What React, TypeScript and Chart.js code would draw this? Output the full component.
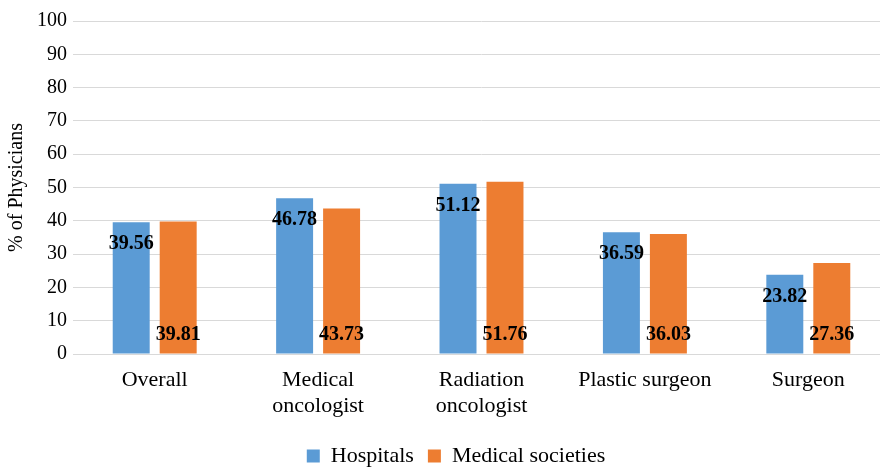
import React, { useEffect, useRef } from 'react';
import { Chart, registerables } from 'chart.js';

Chart.register(...registerables);

const categories: (string | string[])[] = [
  'Overall',
  ['Medical', 'oncologist'],
  ['Radiation', 'oncologist'],
  'Plastic surgeon',
  'Surgeon',
];
const hospitals = [39.56, 46.78, 51.12, 36.59, 23.82];
const medicalSocieties = [39.81, 43.73, 51.76, 36.03, 27.36];
const seriesNames = ['Hospitals', 'Medical societies'];
const yMin = 0;
const yMax = 100;
const yStep = 10;
const yTitle = '% of Physicians';

const FONT = "'Liberation Serif', 'Times New Roman', Times, serif";
const BLUE = '#5B9BD5';
const ORANGE = '#ED7D31';
const GRID = '#d9d9d9';

const barLabels = {
  id: 'barLabels',
  afterDatasetsDraw(chart: any) {
    const ctx = chart.ctx;
    const base = chart.scales.y.getPixelForValue(0);
    ctx.save();
    ctx.font = `bold 20px ${FONT}`;
    ctx.fillStyle = '#000';
    ctx.textAlign = 'center';
    ctx.textBaseline = 'middle';
    chart.data.datasets.forEach((ds: any, di: number) => {
      const meta = chart.getDatasetMeta(di);
      meta.data.forEach((el: any, i: number) => {
        const v = ds.data[i] as number;
        const y = di === 0 ? el.y + 22 : base - 19;
        ctx.fillText(v.toFixed(2), el.x, y);
      });
    });
    ctx.restore();
  },
};

const legendShift = {
  id: 'legendShift',
  afterLayout(chart: any) {
    const l = chart.legend;
    if (l) {
      l.left += 11;
      l.right += 11;
      l.top += 9;
      l.bottom += 9;
    }
  },
};

export default function App() {
  const ref = useRef<HTMLCanvasElement>(null);
  useEffect(() => {
    if (!ref.current) return;
    const chart = new Chart(ref.current, {
      type: 'bar',
      data: {
        labels: categories as any,
        datasets: [
          {
            label: seriesNames[0],
            data: hospitals,
            backgroundColor: BLUE,
            borderWidth: 0,
            categoryPercentage: 0.575,
            barPercentage: 0.787,
          },
          {
            label: seriesNames[1],
            data: medicalSocieties,
            backgroundColor: ORANGE,
            borderWidth: 0,
            categoryPercentage: 0.575,
            barPercentage: 0.787,
          },
        ],
      },
      options: {
        responsive: false,
        animation: false,
        devicePixelRatio: 1,
        layout: { padding: { top: 21, left: 0, right: 0, bottom: 0 } },
        plugins: {
          tooltip: { enabled: false },
          legend: {
            position: 'bottom',
            labels: {
              boxWidth: 13,
              boxHeight: 13,
              padding: 14,
              color: '#000',
              font: { family: FONT, size: 22 },
            },
          },
        },
        scales: {
          x: {
            grid: { display: false, drawTicks: false },
            border: { display: true, color: GRID, width: 1 },
            ticks: {
              color: '#000',
              padding: 14,
              maxRotation: 0,
              autoSkip: false,
              font: { family: FONT, size: 22, lineHeight: 1.15 },
            },
            afterFit(scale: any) {
              scale.height = 68;
            },
          },
          y: {
            min: yMin,
            max: yMax,
            grid: { color: GRID, lineWidth: 1, drawTicks: false },
            border: { display: false },
            ticks: {
              stepSize: yStep,
              color: '#000',
              padding: 6,
              font: { family: FONT, size: 20 },
            },
            title: {
              display: true,
              text: yTitle,
              color: '#000',
              padding: { top: 5, bottom: 0 },
              font: { family: FONT, size: 20 },
            },
            afterFit(scale: any) {
              scale.width = 73;
            },
          },
        },
      },
      plugins: [barLabels, legendShift],
    });
    return () => chart.destroy();
  }, []);
  return (
    <div
      style={{
        position: 'fixed',
        left: 0,
        top: 0,
        width: 880,
        height: 468,
        overflow: 'hidden',
        background: '#fff',
      }}
    >
      <canvas ref={ref} width={890} height={468} style={{ display: 'block', width: 890, height: 468 }} />
    </div>
  );
}
